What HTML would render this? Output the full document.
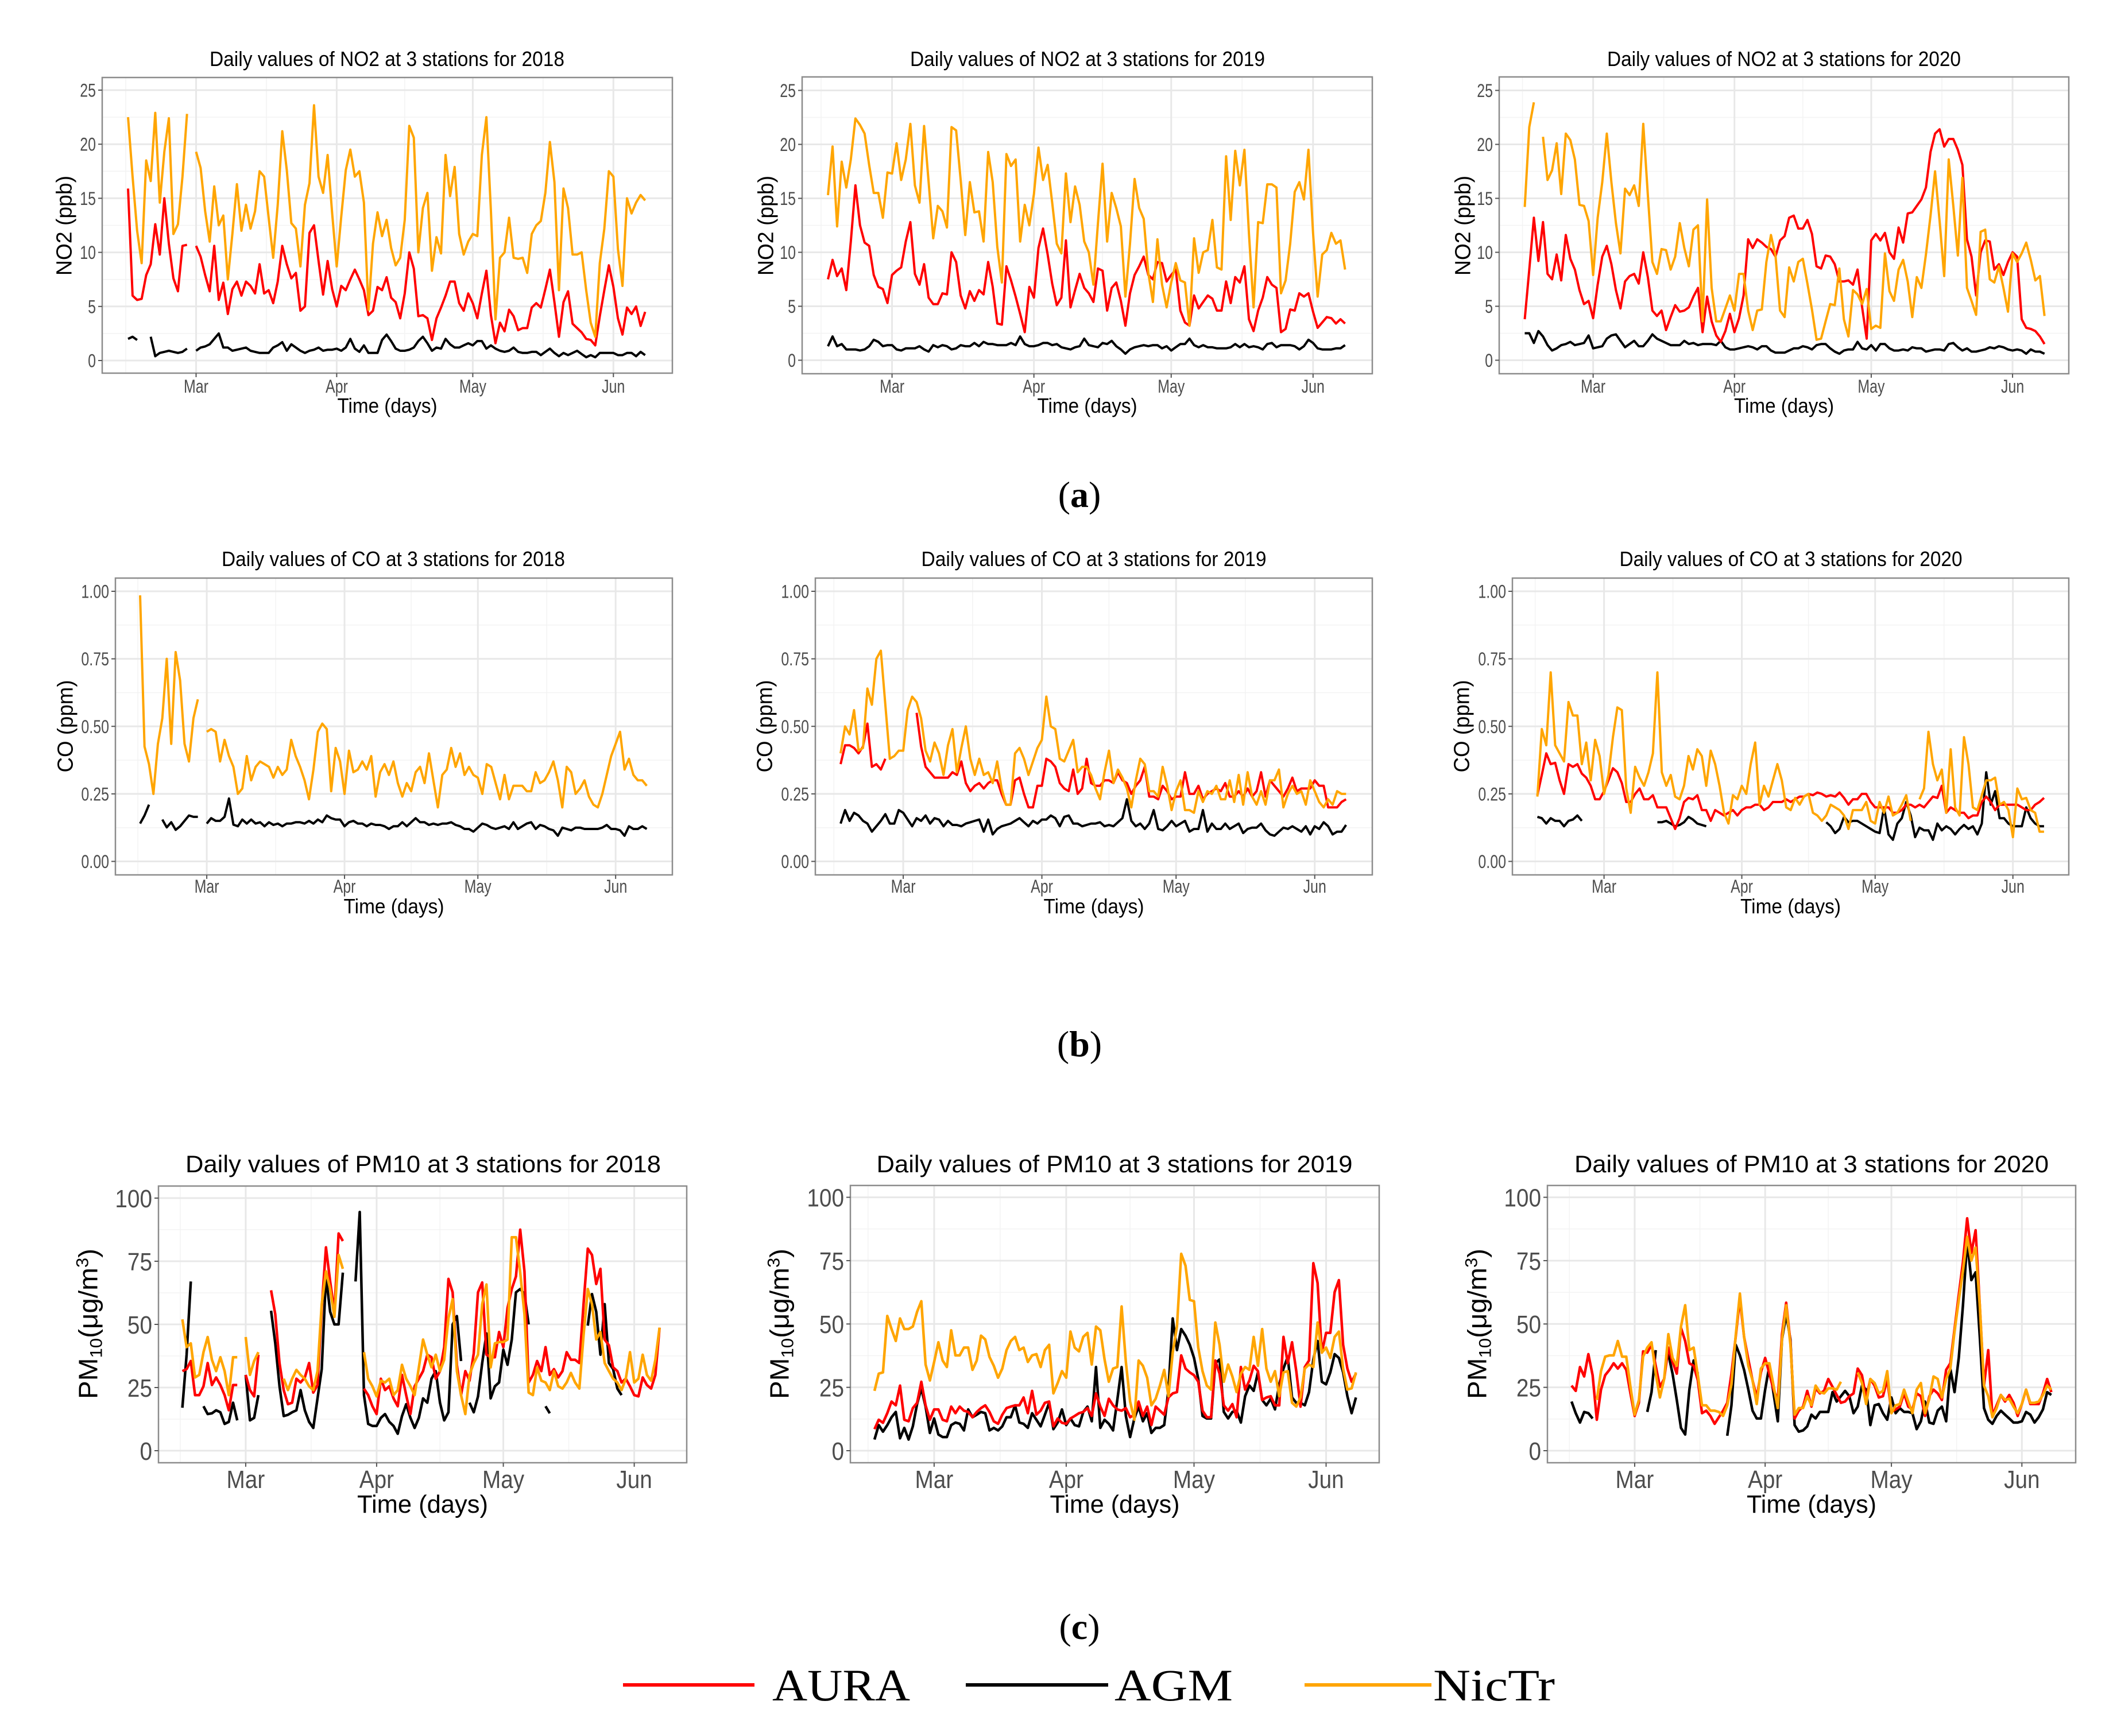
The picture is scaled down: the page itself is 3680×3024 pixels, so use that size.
<!DOCTYPE html>
<html><head><meta charset="utf-8"><title>Daily NO2, CO, PM10 at 3 stations</title>
<style>html,body{margin:0;padding:0;background:#fff}svg{display:block}</style></head>
<body>
<svg id="fig" xmlns="http://www.w3.org/2000/svg" width="3680" height="3024" viewBox="0 0 3680 3024" font-family="Liberation Sans, sans-serif">
<rect width="3680" height="3024" fill="#fff"/>
<g><text x="1880" y="883" font-family="Liberation Serif, serif" font-size="64" text-anchor="middle">(<tspan font-weight="bold">a</tspan>)</text></g>
<g><text x="1880" y="1840" font-family="Liberation Serif, serif" font-size="64" text-anchor="middle">(<tspan font-weight="bold">b</tspan>)</text></g>
<g><text x="1880" y="2855" font-family="Liberation Serif, serif" font-size="64" text-anchor="middle">(<tspan font-weight="bold">c</tspan>)</text></g>
<g font-family="Liberation Serif, serif" font-size="78">
 <g><line x1="1085" y1="2935" x2="1314" y2="2935" stroke="#ff0000" stroke-width="6"/><text x="1345" y="2962" textLength="240" lengthAdjust="spacingAndGlyphs">AURA</text></g>
 <g><line x1="1682" y1="2935" x2="1930" y2="2935" stroke="#000" stroke-width="6"/><text x="1941" y="2962" textLength="206" lengthAdjust="spacingAndGlyphs">AGM</text></g>
 <g><line x1="2272" y1="2935" x2="2493" y2="2935" stroke="#ffa500" stroke-width="6"/><text x="2496" y="2962" textLength="212" lengthAdjust="spacingAndGlyphs">NicTr</text></g>
</g>
</svg>
<script>
const N=null;
const monthLabels=["Mar","Apr","May","Jun"];
const no2Ticks=[0,5,10,15,20,25];
const coTicks=[0,0.25,0.5,0.75,1];
const coTickLabels=["0.00","0.25","0.50","0.75","1.00"];
const pmTicks=[0,25,50,75,100];
const years=["2018","2019","2020"];

const no2_2018_agm=[2,2.2,1.9,N,N,2.2,0.4,0.7,0.8,0.9,0.8,0.7,0.8,1.1,N,0.9,1.2,1.3,1.5,2,2.5,1.2,1.2,0.9,1,1.1,1.2,0.9,0.8,0.7,0.7,0.7,1.2,1.4,1.7,0.9,1.5,1.2,0.9,0.7,0.9,1,1.2,0.9,1,1,1.1,0.9,1.2,2,1.1,0.8,1.4,0.7,0.7,0.7,1.9,2.4,1.8,1.1,0.9,0.9,1,1.2,1.8,2.2,1.6,0.9,1.2,1.1,2,1.5,1.2,1.2,1.4,1.6,1.4,1.8,1.8,1.1,1.4,1.1,0.9,0.8,0.9,1.2,0.8,0.7,0.7,0.8,0.8,0.5,0.8,1.1,0.7,0.4,0.7,0.5,0.7,0.9,0.6,0.3,0.5,0.3,0.7,0.7,0.7,0.7,0.5,0.5,0.7,0.7,0.4,0.8,0.5];
const no2_2018_aura=[15.9,6,5.6,5.7,7.9,8.9,12.6,9.8,15,10.8,7.6,6.4,10.6,10.7,N,10.6,9.6,7.9,6.4,10.6,5.6,7.2,4.3,6.6,7.3,6,7.3,6.9,6.2,8.9,6.2,6.5,5.3,7.3,10.6,8.9,7.6,8.1,4.6,5,11.8,12.5,9.2,6.1,9.2,6.6,5,6.9,6.5,7.5,8.4,7.5,6.5,4.2,4.6,6.8,6.5,7.7,5.8,5.4,3.9,6.2,10,8.5,4.1,4.2,3.9,1.9,3.9,4.9,6,7.3,7.3,5.3,4.6,6.2,5.3,3.9,6.2,8.3,4.2,1.6,3.5,2.7,4.7,4.1,2.8,3,3,4.9,5.3,4.9,6.6,8.4,5.4,2.2,5.4,6.4,3.4,3,2.6,2,1.9,1.4,4.1,6.5,8.8,6.8,3.9,2.4,4.9,4.3,5,3.2,4.5];
const no2_2018_nictr=[22.5,17,12,9,18.5,16.6,22.9,14.6,19.3,22.4,11.7,12.6,17,22.8,N,19.3,17.8,13.8,11,16.1,12.5,13.4,7.5,11.7,16.3,12,14.4,12.2,13.8,17.5,17,13.2,9.5,14.4,21.2,17.6,12.7,12.2,8.7,14.4,16.4,23.6,17,15.5,19,13.6,8.7,13.3,17.6,19.5,17,17.5,14.6,4.7,10.8,13.7,11.5,13,10.4,8.8,9.5,13,21.7,20.6,10,14.1,15.5,8.3,11.4,9.9,19,15.2,17.9,11.7,9.8,11,11.7,11.5,19,22.5,13.8,3.8,9.5,10,13.2,9.5,9.4,9.5,8.1,11.7,12.5,12.9,15.5,20.2,16.5,6.5,15.9,14.1,9.8,9.8,10,6.5,3.5,2.2,9,12.2,17.5,17,10.3,6.9,15,13.6,14.6,15.3,14.8];

const no2_2019_agm=[1.3,2.2,1.3,1.5,1,1,1,0.9,1,1.3,1.9,1.7,1.3,1.4,1.4,1,0.9,1.1,1.1,1.1,1.3,1,0.8,1.4,1.2,1.4,1.3,1,1.1,1.4,1.3,1.3,1.6,1.3,1.7,1.5,1.5,1.4,1.4,1.4,1.6,1.4,2.2,1.5,1.3,1.3,1.4,1.6,1.6,1.4,1.5,1.2,1.1,1,1.2,1.3,2,1.4,1.3,1.2,1.6,1.5,1.8,1.3,1,0.6,1,1.2,1.3,1.4,1.3,1.4,1.4,1.1,1.3,0.9,1.2,1.5,1.5,2,1.4,1.2,1.4,1.2,1.2,1.1,1.1,1.1,1.2,1.5,1.2,1.5,1.2,1.3,1.2,1,1.5,1.6,1.2,1.4,1.4,1.4,1.3,1,1.3,1.9,1.6,1.1,1,1,1,1.1,1.1,1.4];
const no2_2019_aura=[7.5,9.3,7.8,8.5,6.5,11,16.2,12.5,10.9,10.6,7.9,6.8,6.6,5.3,7.9,8.3,8.6,11,12.8,8,7,8.9,5.8,5.2,5.2,6.2,6.1,10,9.1,6,4.8,6.4,5.5,6.5,6.1,9.1,6.8,3.4,3.3,8.7,7.4,5.9,4.3,2.6,6.8,5.8,10.4,12.2,9.8,7.1,5.1,5.8,11.1,4.9,6.5,8,6.7,6.2,5.4,8.5,8.3,4.6,6.7,7.2,5.5,3.2,6.2,7.9,8.7,9.6,7.9,7.5,9.1,9,7.3,7.9,8.4,4.6,3.5,3.2,6,4.8,5.4,6,5.7,4.6,4.6,7.3,5.3,7.7,7.2,8.7,3.8,2.7,4.6,5.8,7.7,7,6.7,2.6,2.9,4.7,4.6,6.2,5.9,6.2,4.5,3,3.5,4,3.9,3.4,3.8,3.4];
const no2_2019_nictr=[15.3,19.8,12.4,18.4,16,18.6,22.4,21.8,21,18.1,15.5,15.5,13.2,17.4,17.3,20.1,16.7,18.6,21.9,16.2,14.6,21.7,16.5,11.3,14.3,13.8,12.3,21.6,21.3,16.7,11.6,16.5,13.7,13.8,11,19.3,16.5,10.5,7.2,19.1,18,18.6,11,14.4,12.5,15.4,19.7,16.7,18.1,14.6,10.8,9.9,17.3,12.8,16.1,14.4,11,10,7,12.7,18.2,11,15.5,14.1,12.4,5.9,10.8,16.8,14.1,13.1,8.1,5.4,11.2,7,4.9,7.2,9,7.4,7.2,3.2,11.3,8.1,10,10.2,13,8.6,8.4,18.9,13,19.4,16.2,19.5,11.7,4.9,12.8,12.7,16.3,16.3,16,6.2,7.4,10.8,15.6,16.5,14.9,19.5,11.8,5.9,9.8,10.2,11.8,10.8,11.1,8.4];

const no2_2020_agm=[2.5,2.5,1.6,2.7,2.2,1.4,0.9,1.1,1.4,1.5,1.7,1.4,1.5,1.6,2.3,1.1,1.2,1.3,2,2.3,2.4,1.8,1.2,1.5,1.8,1.3,1.3,1.8,2.4,2,1.8,1.6,1.4,1.4,1.4,1.8,1.5,1.6,1.4,1.5,1.5,1.5,1.4,1.8,1.2,1,1,1.1,1.2,1.3,1.2,1,1.3,1.3,0.9,0.7,0.7,0.7,0.9,1.1,1.1,1.3,1.2,1,1.4,1.5,1.5,1.1,0.8,0.6,0.9,1,1,1.7,1.1,1,1.4,0.9,1.5,1.5,1.1,0.9,0.9,1,0.9,1.2,1.1,1.1,0.8,0.9,1,1,0.9,1.5,1.6,1.2,0.9,1.1,0.8,0.8,0.9,1,1.2,1.1,1.3,1.2,1,0.9,1,0.9,0.6,1,0.8,0.8,0.6];
const no2_2020_aura=[3.8,8.4,13.2,9.2,12.8,8,7.5,9.8,7.4,11.6,9.4,8.4,6.5,5.2,5.5,3.9,7,9.6,10.6,8.9,6.5,4.8,7.3,7.8,8,7.1,10,7.7,4.6,4.1,4.6,2.8,4,5.1,4.5,4.6,4.9,5.9,6.7,2.6,5.9,3.6,2.3,1.7,2.7,4.3,2.6,3.9,6,11.2,10.4,11.2,10.9,10.5,10.3,9.6,11.1,11.5,13.2,13.4,12.2,12.2,13,11.7,8.7,8.5,9.7,9.6,8.9,7.3,7.3,7.4,7,8.4,4.9,2,11.1,11.7,11.1,11.8,10,9.4,12.3,10.9,13.6,13.7,14.3,14.9,16,19.3,21,21.4,19.8,20.5,20.5,19.5,18.1,11.2,9.6,6,10,11.1,11,8.4,8.9,7.9,9.1,10,9.6,3.8,3,2.9,2.7,2.2,1.5];
const no2_2020_nictr=[14.2,21.6,23.9,N,20.7,16.7,17.6,20.1,15.4,21,20.4,18.6,14.4,14.3,12.9,7.9,13.2,16.5,21,16.5,12.7,9.9,15.9,15.3,16.2,14.3,21.9,15.3,9.1,8,10.3,10.2,8.4,9.6,12.7,10.4,8.7,12.1,12.5,3.6,14.9,6.7,3.6,3.6,4.8,6,4.6,8,8,4.6,2.8,4.6,4.7,9.1,11.6,9.7,4.6,4,8.6,7.3,9.1,9.4,7.1,4.7,1.9,2,3.6,5.2,5.1,8.5,3.8,2.2,6.5,6.1,5.2,6.6,2.9,3.2,3,9.9,6.4,5.5,8.4,9.3,7.3,4,7.7,6.7,9.8,13.4,17.5,12.9,7.8,18.6,14.3,9.7,16.9,6.7,5.5,4.2,11.9,12.1,7.5,7.2,8.7,6.7,4.5,9.9,9.1,9.9,10.9,9.3,7.4,7.8,4.1];

const co_2018_agm=[0.14,0.17,0.21,N,N,0.155,0.126,0.145,0.117,0.13,0.15,0.17,0.165,0.165,N,0.14,0.16,0.15,0.15,0.165,0.233,0.136,0.13,0.155,0.14,0.155,0.14,0.145,0.13,0.145,0.135,0.14,0.13,0.14,0.14,0.145,0.145,0.14,0.15,0.14,0.155,0.145,0.17,0.16,0.155,0.155,0.13,0.145,0.15,0.14,0.14,0.13,0.14,0.135,0.135,0.13,0.12,0.13,0.13,0.145,0.13,0.145,0.16,0.145,0.145,0.135,0.14,0.135,0.14,0.14,0.145,0.135,0.13,0.12,0.12,0.11,0.125,0.14,0.135,0.125,0.12,0.125,0.13,0.12,0.145,0.12,0.13,0.14,0.145,0.12,0.135,0.13,0.12,0.115,0.095,0.125,0.12,0.115,0.125,0.125,0.12,0.12,0.12,0.12,0.125,0.135,0.12,0.12,0.115,0.095,0.13,0.12,0.12,0.13,0.12];
const co_2018_aura=[];
const co_2018_nictr=[0.985,0.425,0.36,0.25,0.435,0.53,0.75,0.435,0.775,0.67,0.435,0.37,0.53,0.6,N,0.48,0.49,0.48,0.37,0.45,0.39,0.35,0.25,0.27,0.39,0.3,0.35,0.37,0.36,0.35,0.31,0.35,0.32,0.34,0.45,0.39,0.35,0.3,0.23,0.34,0.48,0.51,0.49,0.26,0.42,0.37,0.25,0.41,0.33,0.34,0.37,0.34,0.39,0.24,0.33,0.36,0.32,0.37,0.29,0.24,0.29,0.26,0.33,0.35,0.29,0.4,0.3,0.2,0.32,0.34,0.42,0.35,0.4,0.32,0.35,0.32,0.31,0.25,0.36,0.35,0.29,0.23,0.32,0.23,0.28,0.28,0.28,0.26,0.26,0.33,0.29,0.3,0.33,0.37,0.3,0.2,0.35,0.33,0.25,0.27,0.3,0.24,0.21,0.2,0.25,0.32,0.39,0.435,0.48,0.34,0.38,0.32,0.3,0.3,0.28];

const co_2019_agm=[0.14,0.19,0.15,0.18,0.17,0.15,0.14,0.11,0.13,0.15,0.175,0.14,0.14,0.19,0.18,0.155,0.13,0.16,0.15,0.17,0.14,0.16,0.155,0.13,0.15,0.135,0.135,0.13,0.14,0.145,0.15,0.155,0.11,0.155,0.1,0.12,0.13,0.135,0.14,0.15,0.16,0.145,0.13,0.15,0.14,0.155,0.155,0.17,0.16,0.13,0.165,0.17,0.14,0.14,0.13,0.135,0.14,0.14,0.145,0.13,0.135,0.13,0.145,0.16,0.23,0.15,0.13,0.14,0.12,0.14,0.19,0.12,0.115,0.13,0.15,0.13,0.14,0.15,0.11,0.12,0.12,0.19,0.11,0.14,0.12,0.12,0.14,0.12,0.13,0.14,0.105,0.12,0.125,0.125,0.14,0.115,0.1,0.095,0.11,0.125,0.12,0.13,0.12,0.11,0.13,0.1,0.13,0.12,0.145,0.13,0.1,0.11,0.11,0.135];
const co_2019_aura=[0.36,0.43,0.43,0.42,0.4,0.425,0.51,0.35,0.36,0.34,0.38,N,N,N,N,N,N,0.55,0.425,0.35,0.33,0.31,0.31,0.31,0.31,0.33,0.32,0.37,0.29,0.26,0.28,0.29,0.27,0.29,0.3,0.3,0.25,0.21,0.21,0.3,0.31,0.25,0.2,0.2,0.28,0.28,0.38,0.37,0.35,0.29,0.27,0.26,0.34,0.25,0.27,0.38,0.29,0.28,0.28,0.3,0.3,0.29,0.33,0.3,0.29,0.25,0.28,0.3,0.35,0.24,0.24,0.23,0.28,0.26,0.23,0.24,0.24,0.33,0.25,0.25,0.28,0.23,0.25,0.26,0.27,0.26,0.29,0.24,0.24,0.26,0.24,0.27,0.24,0.26,0.33,0.24,0.3,0.28,0.26,0.24,0.27,0.31,0.26,0.27,0.27,0.27,0.3,0.28,0.28,0.2,0.2,0.2,0.22,0.23];
const co_2019_nictr=[0.4,0.5,0.47,0.56,0.41,0.42,0.64,0.58,0.75,0.78,0.58,0.38,0.39,0.41,0.41,0.56,0.61,0.59,0.53,0.41,0.37,0.44,0.4,0.32,0.43,0.49,0.33,0.42,0.5,0.38,0.32,0.38,0.32,0.33,0.29,0.37,0.27,0.21,0.21,0.4,0.42,0.38,0.32,0.37,0.42,0.45,0.61,0.5,0.49,0.38,0.37,0.41,0.45,0.33,0.35,0.35,0.32,0.27,0.23,0.33,0.41,0.29,0.34,0.31,0.27,0.2,0.3,0.38,0.36,0.26,0.26,0.24,0.35,0.28,0.19,0.26,0.3,0.19,0.19,0.18,0.26,0.22,0.26,0.25,0.28,0.23,0.23,0.3,0.22,0.32,0.21,0.33,0.24,0.21,0.26,0.21,0.3,0.3,0.34,0.2,0.25,0.28,0.25,0.26,0.21,0.3,0.26,0.22,0.2,0.23,0.21,0.26,0.25,0.25];

const co_2020_agm=[0.165,0.16,0.14,0.16,0.15,0.15,0.13,0.15,0.155,0.17,0.15,N,N,N,N,N,N,N,N,N,N,N,N,N,N,N,N,0.145,0.145,0.15,0.14,0.13,0.135,0.145,0.165,0.155,0.14,0.135,0.13,N,N,N,N,N,N,N,N,N,N,N,N,N,N,N,N,N,N,N,N,N,N,N,N,N,N,0.145,0.13,0.105,0.12,0.165,0.145,0.15,0.15,0.14,0.13,0.12,0.11,0.105,0.2,0.1,0.08,0.14,0.16,0.22,0.17,0.09,0.125,0.115,0.115,0.08,0.14,0.115,0.13,0.12,0.1,0.12,0.135,0.12,0.13,0.1,0.14,0.33,0.21,0.26,0.16,0.16,0.14,0.13,0.13,0.13,0.2,0.16,0.14,0.13,0.13];
const co_2020_aura=[0.245,0.32,0.4,0.36,0.365,0.3,0.25,0.36,0.35,0.36,0.325,0.31,0.28,0.23,0.23,0.26,0.3,0.345,0.33,0.29,0.22,0.22,0.25,0.27,0.23,0.23,0.245,0.2,0.2,0.2,0.16,0.12,0.16,0.22,0.235,0.23,0.245,0.19,0.19,0.15,0.19,0.18,0.17,0.18,0.19,0.17,0.19,0.2,0.2,0.21,0.21,0.19,0.2,0.22,0.22,0.22,0.23,0.22,0.23,0.24,0.24,0.25,0.245,0.255,0.25,0.24,0.245,0.24,0.255,0.235,0.21,0.23,0.23,0.25,0.25,0.22,0.2,0.2,0.2,0.2,0.18,0.18,0.19,0.21,0.21,0.2,0.21,0.2,0.22,0.24,0.235,0.28,0.18,0.2,0.19,0.18,0.18,0.16,0.17,0.17,0.22,0.24,0.22,0.19,0.21,0.21,0.21,0.21,0.21,0.2,0.19,0.19,0.21,0.22,0.235];
const co_2020_nictr=[0.24,0.49,0.43,0.7,0.43,0.4,0.37,0.59,0.54,0.54,0.36,0.44,0.3,0.45,0.39,0.25,0.32,0.46,0.57,0.56,0.27,0.18,0.35,0.31,0.28,0.33,0.4,0.7,0.33,0.28,0.32,0.24,0.23,0.28,0.39,0.34,0.415,0.39,0.28,0.41,0.36,0.28,0.18,0.14,0.245,0.23,0.28,0.25,0.36,0.44,0.21,0.28,0.24,0.3,0.36,0.3,0.2,0.19,0.235,0.21,0.24,0.25,0.18,0.17,0.15,0.17,0.21,0.2,0.19,0.17,0.12,0.19,0.19,0.19,0.22,0.15,0.14,0.22,0.18,0.24,0.17,0.18,0.21,0.245,0.15,N,0.23,0.27,0.48,0.36,0.3,0.34,0.18,0.415,0.2,0.17,0.46,0.36,0.2,0.19,0.245,0.3,0.3,0.31,0.21,0.22,0.19,0.09,0.27,0.23,0.235,0.19,0.18,0.11,0.11];

const pm_2018_agm=[17,38,67,N,N,17.6,14.5,14.8,16,15.2,10.6,11.4,19,12,N,30,12,13,22,N,N,55.4,42.5,25.5,13.7,14.2,15.2,16,24,16,11.4,9,20.7,32.3,69,55,50,50,70.5,N,N,67,94.5,22,10.6,9.8,9.8,13,14.5,11.4,9.8,6.7,13.7,18.4,13,9,13,20.7,19,28.5,31.5,19,12,15.2,50,53.3,35.5,N,19,15.2,21.5,34.7,46.4,20.7,25.5,27,40,34,44,62.7,64,62,50,N,N,N,17.6,14.8,N,N,N,N,N,N,N,N,49.5,62,55,38,58,34.7,32.3,24.6,22];
const pm_2018_aura=[31.5,32.3,35.5,22,22,25.5,34.7,26,29,26,22,16,26,26,N,30,24,21.5,38,N,N,63.5,54,34.7,24,18.4,19,28.5,27,29,34.7,23,26,56.5,80.5,67,55,86,83,N,N,N,N,24.6,22,17.6,14.5,28.5,24,25.5,20.7,17.6,30,22,14.5,25.5,28.5,31.5,38,37,28.5,31.5,41,68,62.7,34,22,31.5,27.7,38.6,62.7,66.6,38,37,37,47,41,56.5,64,69,87.5,71,27,30,35.5,31.5,41,30,32.3,29,31.5,39,36,36,34.7,58,80,77.5,66,72,44,41.7,33,31.5,27,28.5,25.5,22,21.5,29,26,24.6,30,48.7];
const pm_2018_nictr=[52,41,42.5,29,30,39,45,36,31.5,37,31.5,22,37,37,N,45,30,35.5,39,N,N,N,N,N,28.5,24,28.5,32,30,28.5,25.5,24,31.5,58,71,64,53,77.5,72,N,N,N,N,39,28.5,25.5,21.5,27.7,27,28.5,22,24,34,28.5,25.5,22,33,44,38,33,38,31.5,36,52.5,60,31.5,22,14.5,30,34.7,38,58,65.8,33,42.5,43,43,44,84.5,84.5,70.5,54,23,22,33,27.7,27,24,31.5,25.5,24.6,27,30.8,27,24.6,45.6,64,58,44,47,34.7,31.5,28.5,27,24,28.5,39,27,28.5,38,30,27.7,36,48.7];

const pm_2019_agm=[4.4,10.1,7.5,10.1,13.2,15.3,4.9,9,4.4,9.6,18.4,24.6,17.4,7,12.7,6.4,5.4,5.4,10.1,11.1,10.6,8,16.3,13.2,14.2,15.3,14.8,8,9,8,9.6,13.2,13.2,17.9,11.1,10.6,9,14.8,12.2,9.6,14.2,18.9,8.5,11.1,16.3,10.1,12.7,10.1,9.6,15.3,17.4,11.6,33,9,12.2,10.6,8,20,33,13.7,5.4,12.7,17.4,11.6,14.8,7,9,9,10.1,24.1,52.2,39.7,48,45.4,41.8,36.6,28.3,13.7,12.7,12.7,34.5,36,15.3,12.7,15.3,15.8,11.1,21.5,25.7,23.6,30.9,20,17.9,20.5,16.3,26.2,32.4,37.1,21,18.9,18.9,17.9,23.1,36,43.3,27.2,26.2,30.9,38.1,36.6,30.9,21.5,14.8,21];
const pm_2019_aura=[8.5,12.2,11,14.8,19.4,17.9,25.7,12.2,11.6,16.8,18.9,27.2,17.9,12.2,16.3,16.3,12.2,11.6,17.4,14.8,17.4,15.8,15.3,13.2,15.3,16.8,17.9,15.3,11.6,10.6,14.2,16.8,17.4,17.9,17.9,21,14.8,23.6,14.2,15.8,18.9,19.4,9.6,12.7,11,10.6,12.7,13.7,14.8,15.3,16.8,13.7,22.6,17.4,13.7,20.5,17.9,16.3,15.8,16.8,13.2,14.2,19.4,13.7,17.4,10.1,17.4,15.8,14.2,21,22.6,23.1,37.6,32.4,30.9,29.8,27.2,15.8,13.2,13.2,35.6,30.4,17.9,15.8,18.4,13.2,33,24.1,27.7,33.5,31.4,20,21,21.5,17.9,17.9,44.9,34.5,42.8,31.4,17.4,33,35.6,74,66.2,38.7,46.5,46.5,62.6,67.3,41.8,32.4,27.2,30.4];
const pm_2019_nictr=[23.6,30.4,30.9,53.2,48,43.3,52.2,48,48,49,54.8,59,34,27.7,35,42.8,35.6,33,47.5,37.6,37.6,40.7,40.7,31.9,35.6,45.4,43.9,37,33.5,28.8,32.4,39.7,43.3,44.9,39.7,40.7,35,37.6,38.1,33,39.7,41.8,22.6,26.7,31.4,28.8,47,40.7,39.2,44.9,46.5,34,49,47.5,36,27.2,32.4,33,56.9,35,19.4,12.2,35.6,33.5,28.8,17.9,20.5,25.7,31.9,21.5,38.7,49,77.7,73,59.5,59,40.7,31.4,25.7,24.1,50.6,41.8,27.2,34,29.3,23.1,30.4,33,31.9,44.9,33.5,48,32.4,27.2,31.4,21.5,30.9,31.4,18.9,17.4,21,32.4,34,33,50.6,38.7,40.7,36.6,44.9,47,32.4,24.1,24.6,30.9];

const pm_2020_agm=[19.4,14.8,11.1,15.3,14.8,12.7,N,N,N,N,N,N,N,N,N,N,N,N,15.3,23.1,39.7,N,N,38.1,30.4,20,9,6.4,24.1,35.6,30.4,N,N,N,N,N,N,5.9,17.9,41.8,37.6,31.9,24.1,15.8,12.7,12.7,24.1,33.5,22.6,11.6,43.9,53.7,43.9,10.1,7.5,8,9.6,14.2,12.7,15.3,15.3,15.3,23.1,19.4,21.5,23.6,21.5,14.8,17.4,25.7,24.1,10.1,17.9,18.4,14.8,12.2,21,14.8,16.8,15.3,15.3,14.8,8.5,11.6,19.4,11.1,10.6,15.8,17.4,11.6,32.4,23.1,36.6,57.4,82.8,67.3,70.4,44.9,16.8,12.2,10.6,13.7,15.8,14.2,12.7,11.1,11.1,11.6,15.3,14.2,11.1,13.2,16.3,23.1,22];
const pm_2020_aura=[25.7,23.6,33,29.3,38.1,29.8,12.2,24.1,29.8,31.9,34.5,32.4,34.5,31.9,22.6,13.7,18.9,39.2,38.7,41.8,33.5,25.2,28.3,40.7,35,30.4,48.5,43.3,34.5,33.5,27.8,14.8,15.8,13.7,10.6,13.2,15.8,18.9,30.4,44.9,60,44.9,36,27.8,21,30.9,36.6,30.4,24.1,20,46,58.4,42.8,12.7,15.8,17.4,23.6,17.4,24.6,22.6,23.6,28.3,25.2,22,18.9,19.4,21.5,22.6,32.4,29.8,20.5,28.3,25.7,21,21.5,28.3,15.3,16.3,17.4,22.6,17.4,16.3,22.6,21.5,13.7,21.5,24.1,22.6,20,31.9,34.5,48,61.5,74.5,91.7,78,87,57.4,25.7,39.7,13.7,17.9,22,19.4,22,18.9,13.7,18.4,24.1,18.4,18.4,18.4,22.6,28.3,23.1];
const pm_2020_nictr=[N,N,N,N,N,N,20,31.4,37.1,37.6,37.6,43.3,37.1,37.1,25.2,14.2,20,37.1,40.7,42.8,30.4,21,28.3,46,36.6,33.5,49,57.4,39.7,40.7,29.8,17.9,17.9,15.8,15.8,15.3,13.7,17.9,26.2,45.4,62,44.9,33.5,27.8,18.4,32.4,34.5,34.5,25.7,16.8,43.9,57.4,41.8,14.2,16.8,16.8,21.5,17.9,25.7,23.1,22.6,24.6,24.6,24.1,27.2,N,N,N,30.9,26.7,18.4,28.3,26.7,22.6,23.6,31.4,14.8,17.9,18.4,24.1,19.4,14.8,24.1,26.7,14.8,20.5,29.3,28.3,21,28.3,32.4,47,59.5,71,84.4,75,80.2,57.4,25.7,21.5,13.2,16.8,22,20,20.5,17.4,14.8,18.4,24.1,18.9,18.9,19.4,22,25.7,24.1];

const NS="http://www.w3.org/2000/svg";
const svg=document.getElementById("fig");
function el(tag,attrs,parent){const e=document.createElementNS(NS,tag);for(const k in attrs)e.setAttribute(k,attrs[k]);(parent||svg).appendChild(e);return e;}

const rowStyle={
 no2:{tick:32,tsx:0.78,title:36,axis:36,ylab:"NO2 (ppb)",ylabLen:174,ylabFont:38,ticks:no2Ticks,tickLabels:no2Ticks.map(String),minor:2.5,lw:4,ydx:-5},
 co:{tick:32,tsx:0.78,title:36,axis:36,ylab:"CO (ppm)",ylabLen:161,ylabFont:38,ticks:coTicks,tickLabels:coTickLabels,minor:0.125,lw:4,ydx:-5},
 pm:{tick:44,tsx:0.88,title:42,axis:44,ylab:"PM",ylabLen:262,ylabFont:46,ticks:pmTicks,tickLabels:pmTicks.map(String),minor:12.5,lw:4.5,ydx:0}
};
const panels=[
 {k:"no2",pol:"NO2",yi:0,x0:178,x1:1171,y0:135,y1:650,xs:223,ppd:7.9,md:[15,46,76,107],yz:628,ppu:18.84,tc:674,tw:618,tb:115,xl:684,xt:719,xtw:174,yx:116,yc:393,s:[no2_2018_agm,no2_2018_aura,no2_2018_nictr]},
 {k:"no2",pol:"NO2",yi:1,x0:1397,x1:2390,y0:134,y1:651,xs:1442,ppd:7.97,md:[14,45,75,106],yz:627.5,ppu:18.8,tc:1894,tw:618,tb:115,xl:684,xt:719,xtw:174,yx:1338,yc:393,s:[no2_2019_agm,no2_2019_aura,no2_2019_nictr]},
 {k:"no2",pol:"NO2",yi:2,x0:2611,x1:3603,y0:134,y1:651,xs:2655.5,ppd:7.94,md:[15,46,76,107],yz:627.5,ppu:18.8,tc:3107,tw:616,tb:115,xl:684,xt:719,xtw:174,yx:2552,yc:393,s:[no2_2020_agm,no2_2020_aura,no2_2020_nictr]},
 {k:"co",pol:"CO",yi:0,x0:201,x1:1171,y0:1007,y1:1524,xs:244,ppd:7.74,md:[15,46,76,107],yz:1500.5,ppu:470.5,tc:685,tw:598,tb:986,xl:1555,xt:1591,xtw:175,yx:118,yc:1265,s:[co_2018_agm,co_2018_aura,co_2018_nictr]},
 {k:"co",pol:"CO",yi:1,x0:1420,x1:2390,y0:1007,y1:1524,xs:1464,ppd:7.79,md:[14,45,75,106],yz:1500.5,ppu:470.5,tc:1905,tw:601,tb:986,xl:1555,xt:1591,xtw:175,yx:1336,yc:1265,s:[co_2019_agm,co_2019_aura,co_2019_nictr]},
 {k:"co",pol:"CO",yi:2,x0:2634,x1:3603,y0:1007,y1:1524,xs:2677.5,ppd:7.74,md:[15,46,76,107],yz:1500.5,ppu:470.5,tc:3119,tw:597,tb:986,xl:1555,xt:1591,xtw:175,yx:2550,yc:1265,s:[co_2020_agm,co_2020_aura,co_2020_nictr]},
 {k:"pm",pol:"PM10",yi:0,x0:276,x1:1196,y0:2066,y1:2548,xs:317.6,ppd:7.355,md:[15,46,76,107],yz:2527,ppu:4.40,tc:737,tw:828,tb:2042,xl:2592,xt:2635,xtw:228,yx:153,yc:2306,s:[pm_2018_agm,pm_2018_aura,pm_2018_nictr]},
 {k:"pm",pol:"PM10",yi:1,x0:1481,x1:2402,y0:2065,y1:2548,xs:1523,ppd:7.42,md:[14,45,75,106],yz:2527,ppu:4.414,tc:1941,tw:829,tb:2042,xl:2592,xt:2635,xtw:226,yx:1357,yc:2306,s:[pm_2019_agm,pm_2019_aura,pm_2019_nictr]},
 {k:"pm",pol:"PM10",yi:2,x0:2695,x1:3615,y0:2065,y1:2548,xs:2737,ppd:7.33,md:[15,46,76,107],yz:2527,ppu:4.414,tc:3155,tw:826,tb:2042,xl:2592,xt:2635,xtw:226,yx:2572,yc:2306,s:[pm_2020_agm,pm_2020_aura,pm_2020_nictr]}
];
const seriesColors=["#000000","#ff0000","#ffa500"];
const seriesNames=["agm","aura","nictr"];

panels.forEach((p,pi)=>{
 const st=rowStyle[p.k];
 const X=d=>p.xs+d*p.ppd;
 const Y=v=>p.yz-v*p.ppu;
 const g=el("g",{});
 
 
 const bg=el("rect",{x:p.x0,y:p.y0,width:p.x1-p.x0,height:p.y1-p.y0,fill:"#fff"},g);
 
 
 const grid=el("g",{},g);
 
 
 const tmax=st.ticks[st.ticks.length-1];
 for(let v=st.ticks[0]-st.minor;v<=tmax+st.minor+1e-9;v+=st.minor*2){const y=Y(v);if(y>p.y0&&y<p.y1)el("line",{x1:p.x0,x2:p.x1,y1:y,y2:y,stroke:"#f3f3f3","stroke-width":1.5},grid);}
 const mids=[p.md[0]-(p.md[1]-p.md[0])/2];for(let i=0;i<p.md.length-1;i++)mids.push((p.md[i]+p.md[i+1])/2);mids.push(p.md[3]+15.5);
 mids.forEach(d=>{const x=X(d);if(x>p.x0&&x<p.x1)el("line",{x1:x,x2:x,y1:p.y0,y2:p.y1,stroke:"#f3f3f3","stroke-width":1.5},grid);});
 st.ticks.forEach(v=>{const y=Y(v);el("line",{x1:p.x0,x2:p.x1,y1:y,y2:y,stroke:"#e8e8e8","stroke-width":3},grid);});
 p.md.forEach(d=>{const x=X(d);el("line",{x1:x,x2:x,y1:p.y0,y2:p.y1,stroke:"#e8e8e8","stroke-width":3},grid);});
 p.s.forEach((arr,si)=>{
  let dstr="",pen=false;
  arr.forEach((v,i)=>{if(v===null||v===undefined){pen=false;return;}dstr+=(pen?"L":"M")+X(i).toFixed(1)+" "+Y(v).toFixed(1);pen=true;});
  if(!dstr)return;
  const path=el("path",{d:dstr,fill:"none",stroke:seriesColors[si],"stroke-width":st.lw,"stroke-linejoin":"round","stroke-linecap":"butt"},g);
  
  
 });
 const border=el("rect",{x:p.x0,y:p.y0,width:p.x1-p.x0,height:p.y1-p.y0,fill:"none",stroke:"#8c8c8c","stroke-width":2.5},g);
 
 
 const ya=el("g",{},g);
 
 
 st.ticks.forEach((v,i)=>{const y=Y(v);
  el("line",{x1:p.x0-7,x2:p.x0,y1:y,y2:y,stroke:"#555","stroke-width":2},ya);
  const t=el("text",{transform:`translate(${p.x0-11},${(y+st.tick*0.36).toFixed(1)}) scale(${st.tsx},1)`,"text-anchor":"end","font-size":st.tick,fill:"#4d4d4d"},ya);
  t.textContent=st.tickLabels[i];
  
  
 });
 const xa=el("g",{},g);
 
 
 p.md.forEach((d,i)=>{const x=X(d);
  el("line",{x1:x,x2:x,y1:p.y1,y2:p.y1+7,stroke:"#555","stroke-width":2},xa);
  const t=el("text",{transform:`translate(${x.toFixed(1)},${p.xl}) scale(${st.tsx},1)`,"text-anchor":"middle","font-size":st.tick,fill:"#4d4d4d"},xa);
  t.textContent=monthLabels[i];
  
  
 });
 const xt=el("text",{x:(p.x0+p.x1)/2,y:p.xt,"text-anchor":"middle","font-size":st.axis,textLength:p.xtw,lengthAdjust:"spacingAndGlyphs",fill:"#000"},g);
 xt.textContent="Time (days)";
 
 
 const yt=el("text",{transform:`translate(${p.yx+st.ydx+st.ylabFont*0.36},${p.yc}) rotate(-90)`,"text-anchor":"middle","font-size":st.ylabFont,textLength:st.ylabLen,lengthAdjust:"spacingAndGlyphs",fill:"#000"},g);
 if(p.k==="pm"){
  yt.innerHTML='PM<tspan font-size="30" dy="8">10</tspan><tspan dy="-8">(μg/m</tspan><tspan font-size="30" dy="-16">3</tspan><tspan dy="16">)</tspan>';
 } else yt.textContent=st.ylab;
 
 
 const tt=el("text",{x:p.tc,y:p.tb,"text-anchor":"middle","font-size":st.title,textLength:p.tw,lengthAdjust:"spacingAndGlyphs",fill:"#000"},g);
 tt.textContent=`Daily values of ${p.pol} at 3 stations for ${years[p.yi]}`;
 
 
});
</script>
</body></html>
